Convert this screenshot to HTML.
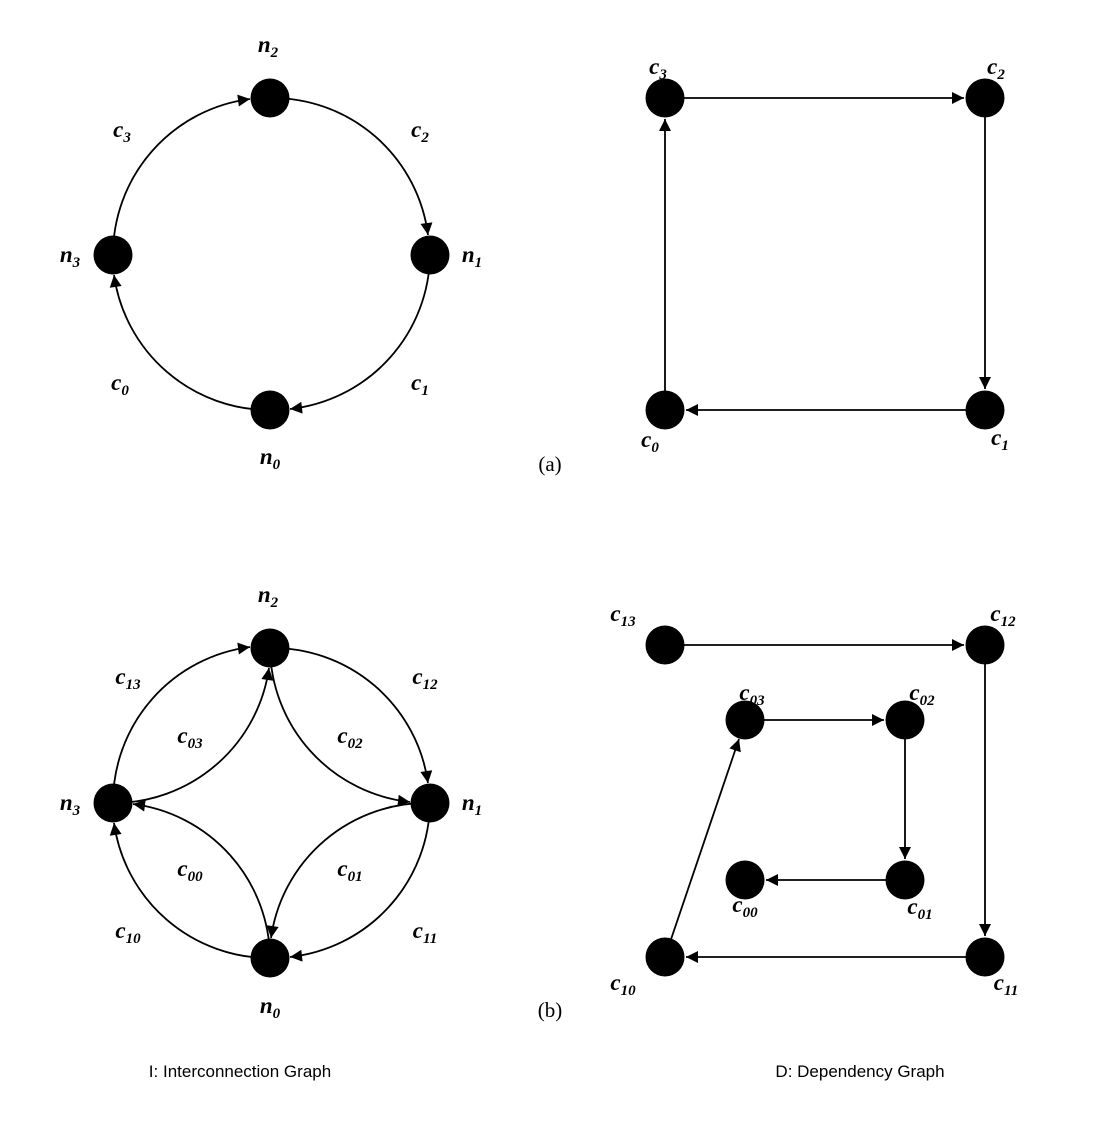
<!DOCTYPE html>
<html><head><meta charset="utf-8"><style>
html,body{margin:0;padding:0;background:#fff;}
svg{display:block;}
.m{font-family:"Liberation Serif",serif;font-style:italic;font-weight:bold;font-size:23px;}
.s{font-size:15px;}
.cap{font-family:"Liberation Sans",sans-serif;font-size:17px;}
.p{font-family:"Liberation Serif",serif;font-size:21px;}
</style></head><body>
<svg width="1100" height="1134" viewBox="0 0 1100 1134" xmlns="http://www.w3.org/2000/svg">
<defs>
<marker id="a" viewBox="0 0 10 10" refX="10" refY="5" markerWidth="22" markerHeight="12" markerUnits="userSpaceOnUse" orient="auto"><path d="M0,0 L10,5 L0,10 z" fill="#000"/></marker>
</defs>
<g fill="none" stroke="#000" stroke-width="1.8">
<path d="M113,255 A157,157 0 0 1 250,99" marker-end="url(#a)"/>
<path d="M270,98 A157,157 0 0 1 428,235" marker-end="url(#a)"/>
<path d="M430,255 A157,157 0 0 1 290,409" marker-end="url(#a)"/>
<path d="M270,410 A157,157 0 0 1 114,275" marker-end="url(#a)"/>
<line x1="665" y1="98" x2="964" y2="98" marker-end="url(#a)"/>
<line x1="985" y1="98" x2="985" y2="389" marker-end="url(#a)"/>
<line x1="985" y1="410" x2="686" y2="410" marker-end="url(#a)"/>
<line x1="665" y1="410" x2="665" y2="119" marker-end="url(#a)"/>
<path d="M113,803 A157,157 0 0 1 250,647" marker-end="url(#a)"/>
<path d="M270,648 A157,157 0 0 1 428,783" marker-end="url(#a)"/>
<path d="M430,803 A157,157 0 0 1 290,957" marker-end="url(#a)"/>
<path d="M270,958 A157,157 0 0 1 114,823" marker-end="url(#a)"/>
<path d="M113,803 A157,157 0 0 0 269,668" marker-end="url(#a)"/>
<path d="M270,648 A157,157 0 0 0 410,802" marker-end="url(#a)"/>
<path d="M430,803 A157,157 0 0 0 271,938" marker-end="url(#a)"/>
<path d="M270,958 A157,157 0 0 0 133,804" marker-end="url(#a)"/>
<line x1="665" y1="645" x2="964" y2="645" marker-end="url(#a)"/>
<line x1="985" y1="645" x2="985" y2="936" marker-end="url(#a)"/>
<line x1="985" y1="957" x2="686" y2="957" marker-end="url(#a)"/>
<line x1="665" y1="957" x2="739" y2="739" marker-end="url(#a)"/>
<line x1="745" y1="720" x2="884" y2="720" marker-end="url(#a)"/>
<line x1="905" y1="720" x2="905" y2="859" marker-end="url(#a)"/>
<line x1="905" y1="880" x2="766" y2="880" marker-end="url(#a)"/>
</g>
<g fill="#000">
<circle cx="270" cy="98" r="19.5"/><circle cx="430" cy="255" r="19.5"/><circle cx="270" cy="410" r="19.5"/><circle cx="113" cy="255" r="19.5"/>
<circle cx="665" cy="98" r="19.5"/><circle cx="985" cy="98" r="19.5"/><circle cx="985" cy="410" r="19.5"/><circle cx="665" cy="410" r="19.5"/>
<circle cx="270" cy="648" r="19.5"/><circle cx="430" cy="803" r="19.5"/><circle cx="270" cy="958" r="19.5"/><circle cx="113" cy="803" r="19.5"/>
<circle cx="665" cy="645" r="19.5"/><circle cx="985" cy="645" r="19.5"/><circle cx="985" cy="957" r="19.5"/><circle cx="665" cy="957" r="19.5"/>
<circle cx="745" cy="720" r="19.5"/><circle cx="905" cy="720" r="19.5"/><circle cx="905" cy="880" r="19.5"/><circle cx="745" cy="880" r="19.5"/>
</g>
<g class="m" text-anchor="middle">
<text x="268" y="52">n<tspan class="s" dy="5">2</tspan></text>
<text x="122" y="137">c<tspan class="s" dy="5">3</tspan></text>
<text x="420" y="137">c<tspan class="s" dy="5">2</tspan></text>
<text x="70" y="262">n<tspan class="s" dy="5">3</tspan></text>
<text x="472" y="262">n<tspan class="s" dy="5">1</tspan></text>
<text x="120" y="390">c<tspan class="s" dy="5">0</tspan></text>
<text x="420" y="390">c<tspan class="s" dy="5">1</tspan></text>
<text x="270" y="464">n<tspan class="s" dy="5">0</tspan></text>
<text x="658" y="74">c<tspan class="s" dy="5">3</tspan></text>
<text x="996" y="74">c<tspan class="s" dy="5">2</tspan></text>
<text x="650" y="447">c<tspan class="s" dy="5">0</tspan></text>
<text x="1000" y="445">c<tspan class="s" dy="5">1</tspan></text>
<text x="268" y="602">n<tspan class="s" dy="5">2</tspan></text>
<text x="128" y="684">c<tspan class="s" dy="5">13</tspan></text>
<text x="425" y="684">c<tspan class="s" dy="5">12</tspan></text>
<text x="190" y="743">c<tspan class="s" dy="5">03</tspan></text>
<text x="350" y="743">c<tspan class="s" dy="5">02</tspan></text>
<text x="70" y="810">n<tspan class="s" dy="5">3</tspan></text>
<text x="472" y="810">n<tspan class="s" dy="5">1</tspan></text>
<text x="190" y="876">c<tspan class="s" dy="5">00</tspan></text>
<text x="350" y="876">c<tspan class="s" dy="5">01</tspan></text>
<text x="128" y="938">c<tspan class="s" dy="5">10</tspan></text>
<text x="425" y="938">c<tspan class="s" dy="5">11</tspan></text>
<text x="270" y="1013">n<tspan class="s" dy="5">0</tspan></text>
<text x="623" y="621">c<tspan class="s" dy="5">13</tspan></text>
<text x="1003" y="621">c<tspan class="s" dy="5">12</tspan></text>
<text x="752" y="700">c<tspan class="s" dy="5">03</tspan></text>
<text x="922" y="700">c<tspan class="s" dy="5">02</tspan></text>
<text x="745" y="912">c<tspan class="s" dy="5">00</tspan></text>
<text x="920" y="914">c<tspan class="s" dy="5">01</tspan></text>
<text x="623" y="990">c<tspan class="s" dy="5">10</tspan></text>
<text x="1006" y="990">c<tspan class="s" dy="5">11</tspan></text>
</g>
<text class="p" x="550" y="471" text-anchor="middle">(a)</text>
<text class="p" x="550" y="1017" text-anchor="middle">(b)</text>
<text class="cap" x="240" y="1077" text-anchor="middle">I: Interconnection Graph</text>
<text class="cap" x="860" y="1077" text-anchor="middle">D: Dependency Graph</text>
</svg>
</body></html>
